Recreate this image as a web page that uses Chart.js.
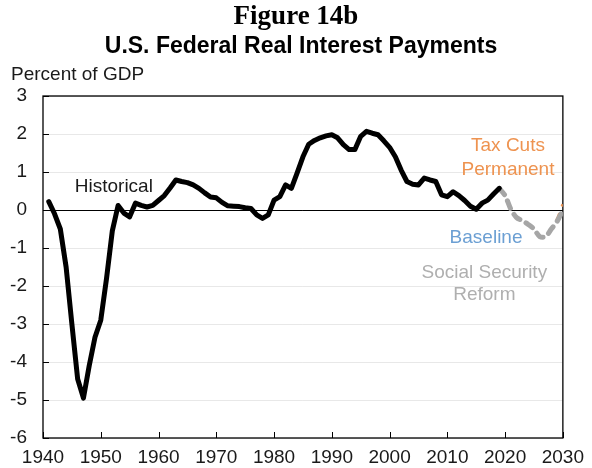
<!DOCTYPE html>
<html>
<head>
<meta charset="utf-8">
<script src="https://cdn.jsdelivr.net/npm/chart.js@4.4.1/dist/chart.umd.min.js"></script>
<style>
  html, body { margin: 0; padding: 0; background: #fff; }
  #wrap { width: 592px; height: 468px; }
</style>
</head>
<body>
<div id="wrap"><canvas id="chart" width="592" height="468"></canvas></div>
<script>
// historical real net interest, percent of GDP
const histYears = [];
for (let y = 1941; y <= 2019; y++) histYears.push(y);
const histValues = [
  0.22, -0.1, -0.5, -1.5, -3.0, -4.45, -4.95, -4.1, -3.35,          // 1941-49
  -2.9, -1.8, -0.55, 0.12, -0.08, -0.18, 0.18, 0.12, 0.08, 0.12,   // 1950-59
  0.25, 0.38, 0.58, 0.79, 0.75, 0.72, 0.66, 0.57, 0.45, 0.34,      // 1960-69
  0.32, 0.2, 0.11, 0.1, 0.09, 0.06, 0.04, -0.13, -0.22, -0.13,     // 1970-79
  0.26, 0.35, 0.66, 0.57, 0.98, 1.4, 1.73, 1.83, 1.9, 1.95,        // 1980-89
  1.98, 1.9, 1.72, 1.59, 1.59, 1.94, 2.07, 2.02, 1.98, 1.82,       // 1990-99
  1.65, 1.4, 1.05, 0.75, 0.68, 0.66, 0.84, 0.79, 0.75, 0.4,        // 2000-09
  0.35, 0.48, 0.38, 0.25, 0.1, 0.02, 0.18, 0.26, 0.42, 0.57        // 2010-19
];

// projections
const projYears = [2019, 2020, 2021, 2022, 2023, 2024, 2025, 2026, 2027, 2028, 2029, 2030];
const socialSecurity = [0.57, 0.38, 0.02, -0.2, -0.28, -0.38, -0.5, -0.7, -0.7, -0.5, -0.3, 0.0];
const taxCuts = [0.57, 0.38, 0.02, -0.2, -0.28, -0.38, -0.5, -0.7, -0.7, -0.5, -0.25, 0.15];

const xTicks = [1940, 1950, 1960, 1970, 1980, 1990, 2000, 2010, 2020, 2030];
const yTicks = [3, 2, 1, 0, -1, -2, -3, -4, -5, -6];

// text annotations placed in data coordinates
const notes = [
  { text: 'Historical', x: 1945.5, y: 0.6, color: '#1a1a1a', align: 'left' },
  { text: 'Tax Cuts', x: 2020.5, y: 1.68, color: '#EE9350', align: 'center' },
  { text: 'Permanent', x: 2020.5, y: 1.07, color: '#EE9350', align: 'center' },
  { text: 'Baseline', x: 2016.7, y: -0.72, color: '#6B9FD3', align: 'center' },
  { text: 'Social Security', x: 2016.4, y: -1.64, color: '#AFAFAF', align: 'center' },
  { text: 'Reform', x: 2016.4, y: -2.22, color: '#AFAFAF', align: 'center' }
];

const FONT = '"Liberation Sans", Arial, sans-serif';

const toPts = (xs, ys) => xs.map((x, i) => ({ x: x, y: ys[i] }));

const framePlugin = {
  id: 'frame',
  beforeDatasetsDraw(chart) {
    const ctx = chart.ctx;
    const a = chart.chartArea;
    const xs = chart.scales.x;
    const ys = chart.scales.y;
    ctx.save();
    ctx.strokeStyle = '#000';
    ctx.lineWidth = 1.3;
    ctx.strokeRect(a.left, a.top, a.right - a.left, a.bottom - a.top);
    ctx.lineWidth = 1;
    ctx.beginPath();
    yTicks.forEach(v => {
      const py = Math.round(ys.getPixelForValue(v)) + 0.5;
      ctx.moveTo(a.left, py);
      ctx.lineTo(a.left + 6, py);
    });
    xTicks.forEach(v => {
      const px = Math.round(xs.getPixelForValue(v)) + 0.5;
      ctx.moveTo(px, a.bottom);
      ctx.lineTo(px, a.bottom - 6);
    });
    ctx.stroke();
    ctx.restore();
  },
  afterDraw(chart) {
    const ctx = chart.ctx;
    const xs = chart.scales.x;
    const ys = chart.scales.y;
    ctx.save();
    ctx.textBaseline = 'middle';
    ctx.fillStyle = '#000';
    ctx.textAlign = 'center';
    ctx.font = 'bold 27px "Liberation Serif", "Times New Roman", serif';
    ctx.fillText('Figure 14b', 296, 17);
    ctx.font = 'bold 23px ' + FONT;
    ctx.fillText('U.S. Federal Real Interest Payments', 301, 47);
    ctx.textAlign = 'left';
    ctx.fillStyle = '#1a1a1a';
    ctx.font = '19px ' + FONT;
    ctx.fillText('Percent of GDP', 11, 75);
    notes.forEach(n => {
      ctx.fillStyle = n.color;
      ctx.textAlign = n.align;
      ctx.fillText(n.text, xs.getPixelForValue(n.x), ys.getPixelForValue(n.y));
    });
    ctx.restore();
  }
};

new Chart(document.getElementById('chart'), {
  type: 'line',
  data: {
    datasets: [
      {
        label: 'Historical',
        data: toPts(histYears, histValues),
        borderColor: '#000',
        borderWidth: 5,
        pointRadius: 0,
        tension: 0,
        borderJoinStyle: 'round',
        borderCapStyle: 'round',
        order: 1
      },
      {
        label: 'Social Security Reform',
        data: toPts(projYears, socialSecurity),
        borderColor: '#A6A6A6',
        borderWidth: 5,
        borderDash: [8, 7],
        borderCapStyle: 'round',
        pointRadius: 0,
        tension: 0.3,
        order: 2
      },
      {
        label: 'Tax Cuts Permanent',
        data: toPts(projYears, taxCuts),
        borderColor: '#EE9350',
        borderWidth: 3,
        borderDash: [8, 7],
        pointRadius: 0,
        tension: 0.3,
        order: 3
      }
    ]
  },
  options: {
    responsive: false,
    animation: false,
    layout: { padding: { top: 96, right: 28, left: 0, bottom: 0 } },
    plugins: {
      legend: { display: false },
      title: { display: false },
      tooltip: { enabled: false }
    },
    scales: {
      x: {
        type: 'linear',
        min: 1940,
        max: 2030,
        afterFit: s => { s.height = 30; },
        afterBuildTicks: s => { s.ticks = xTicks.map(v => ({ value: v })); },
        ticks: {
          padding: 8,
          color: '#1a1a1a',
          font: { family: FONT, size: 19 },
          maxRotation: 0,
          callback: v => String(v)
        },
        grid: { display: false, drawTicks: false },
        border: { display: false }
      },
      y: {
        min: -6,
        max: 3,
        afterFit: s => { s.width = 43; },
        afterBuildTicks: s => { s.ticks = yTicks.map(v => ({ value: v })); },
        ticks: {
          padding: 16,
          color: '#1a1a1a',
          font: { family: FONT, size: 19 },
          callback: v => String(v)
        },
        grid: {
          drawTicks: false,
          color: c => (c.tick && c.tick.value === 0) ? '#000' : '#E8E8E8',
          lineWidth: 1
        },
        border: { display: false }
      }
    }
  },
  plugins: [framePlugin]
});
</script>
</body>
</html>
